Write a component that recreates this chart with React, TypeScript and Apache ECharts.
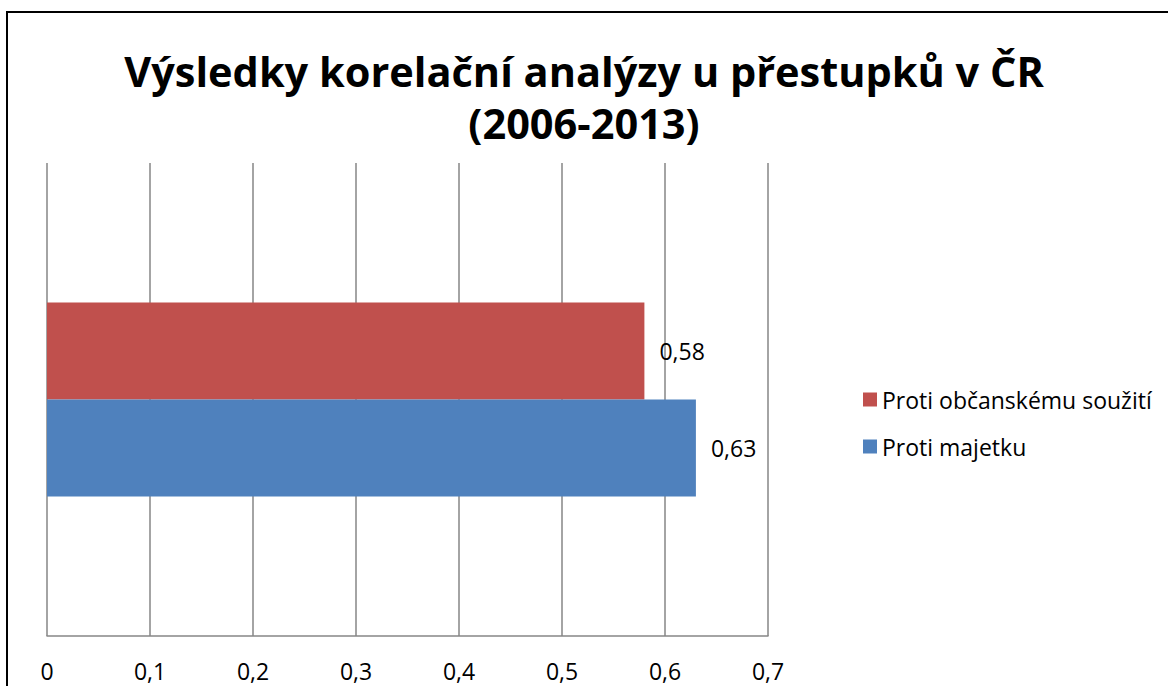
import React, { useEffect, useRef } from "react";
import * as echarts from "echarts";

const titleLines = ["Výsledky korelační analýzy u přestupků v ČR", "(2006-2013)"];
const categories = [""];
const seriesNames = ["Proti občanskému soužití", "Proti majetku"];
const souzitiValues = [0.58];
const majetekValues = [0.63];
const seriesColors = ["#C0504D", "#4F81BD"];
const legendOrder = ["Proti občanskému soužití", "Proti majetku"];
const axisMin = 0;
const axisMax = 0.7;
const axisStep = 0.1;

const FONT = "'Open Sans', 'Noto Sans', sans-serif";
const fmt = (v: number) => String(Math.round(v * 100) / 100).replace(".", ",");

export default function App() {
  const ref = useRef<HTMLDivElement>(null);
  useEffect(() => {
    if (!ref.current) return;
    const chart = echarts.init(ref.current, undefined, { renderer: "svg" });
    const labelCfg = {
      show: true,
      position: "right",
      distance: 15,
      formatter: (p: any) => fmt(p.value),
      fontFamily: FONT,
      fontSize: 23,
      color: "#000",
    };
    chart.setOption({
      animation: false,
      backgroundColor: "#ffffff",
      textStyle: { fontFamily: FONT },
      title: {
        text: titleLines.join("\n"),
        left: "center",
        top: 40,
        textStyle: { fontFamily: FONT, fontSize: 41.5, fontWeight: "bold", color: "#000", lineHeight: 52 },
      },
      graphic: [
        {
          type: "rect",
          shape: { x: 7, y: 12, width: 1300, height: 800 },
          style: { fill: "none", stroke: "#000", lineWidth: 2 },
          silent: true,
        },
      ],
      legend: {
        data: legendOrder,
        orient: "vertical",
        left: 858,
        top: 383,
        itemWidth: 14,
        itemHeight: 14,
        itemGap: 24,
        icon: "rect",
        textStyle: { fontFamily: FONT, fontSize: 23, color: "#000" },
      },
      grid: { left: 47, right: 400, top: 163, bottom: 50, containLabel: false },
      xAxis: {
        type: "value",
        min: axisMin,
        max: axisMax,
        interval: axisStep,
        axisLine: { show: true, lineStyle: { color: "#868686", width: 1.5 } },
        axisTick: { show: false },
        splitLine: { show: true, lineStyle: { color: "#868686", width: 1.5 } },
        axisLabel: {
          formatter: (v: number) => fmt(v),
          fontFamily: FONT,
          fontSize: 23,
          lineHeight: 18,
          color: "#000",
          margin: 26,
        },
      },
      yAxis: {
        type: "category",
        data: categories,
        axisLine: { show: false },
        axisTick: { show: false },
        axisLabel: { show: false },
      },
      series: [
        {
          name: seriesNames[0],
          type: "bar",
          data: souzitiValues,
          itemStyle: { color: seriesColors[0] },
          barGap: "0%",
          barCategoryGap: "59%",
          label: labelCfg,
        },
        {
          name: seriesNames[1],
          type: "bar",
          data: majetekValues,
          itemStyle: { color: seriesColors[1] },
          barGap: "0%",
          barCategoryGap: "59%",
          label: labelCfg,
        },
      ],
    });
    return () => chart.dispose();
  }, []);
  return <div ref={ref} style={{ position: "fixed", left: 0, top: 0, width: 1168, height: 686 }} />;
}
